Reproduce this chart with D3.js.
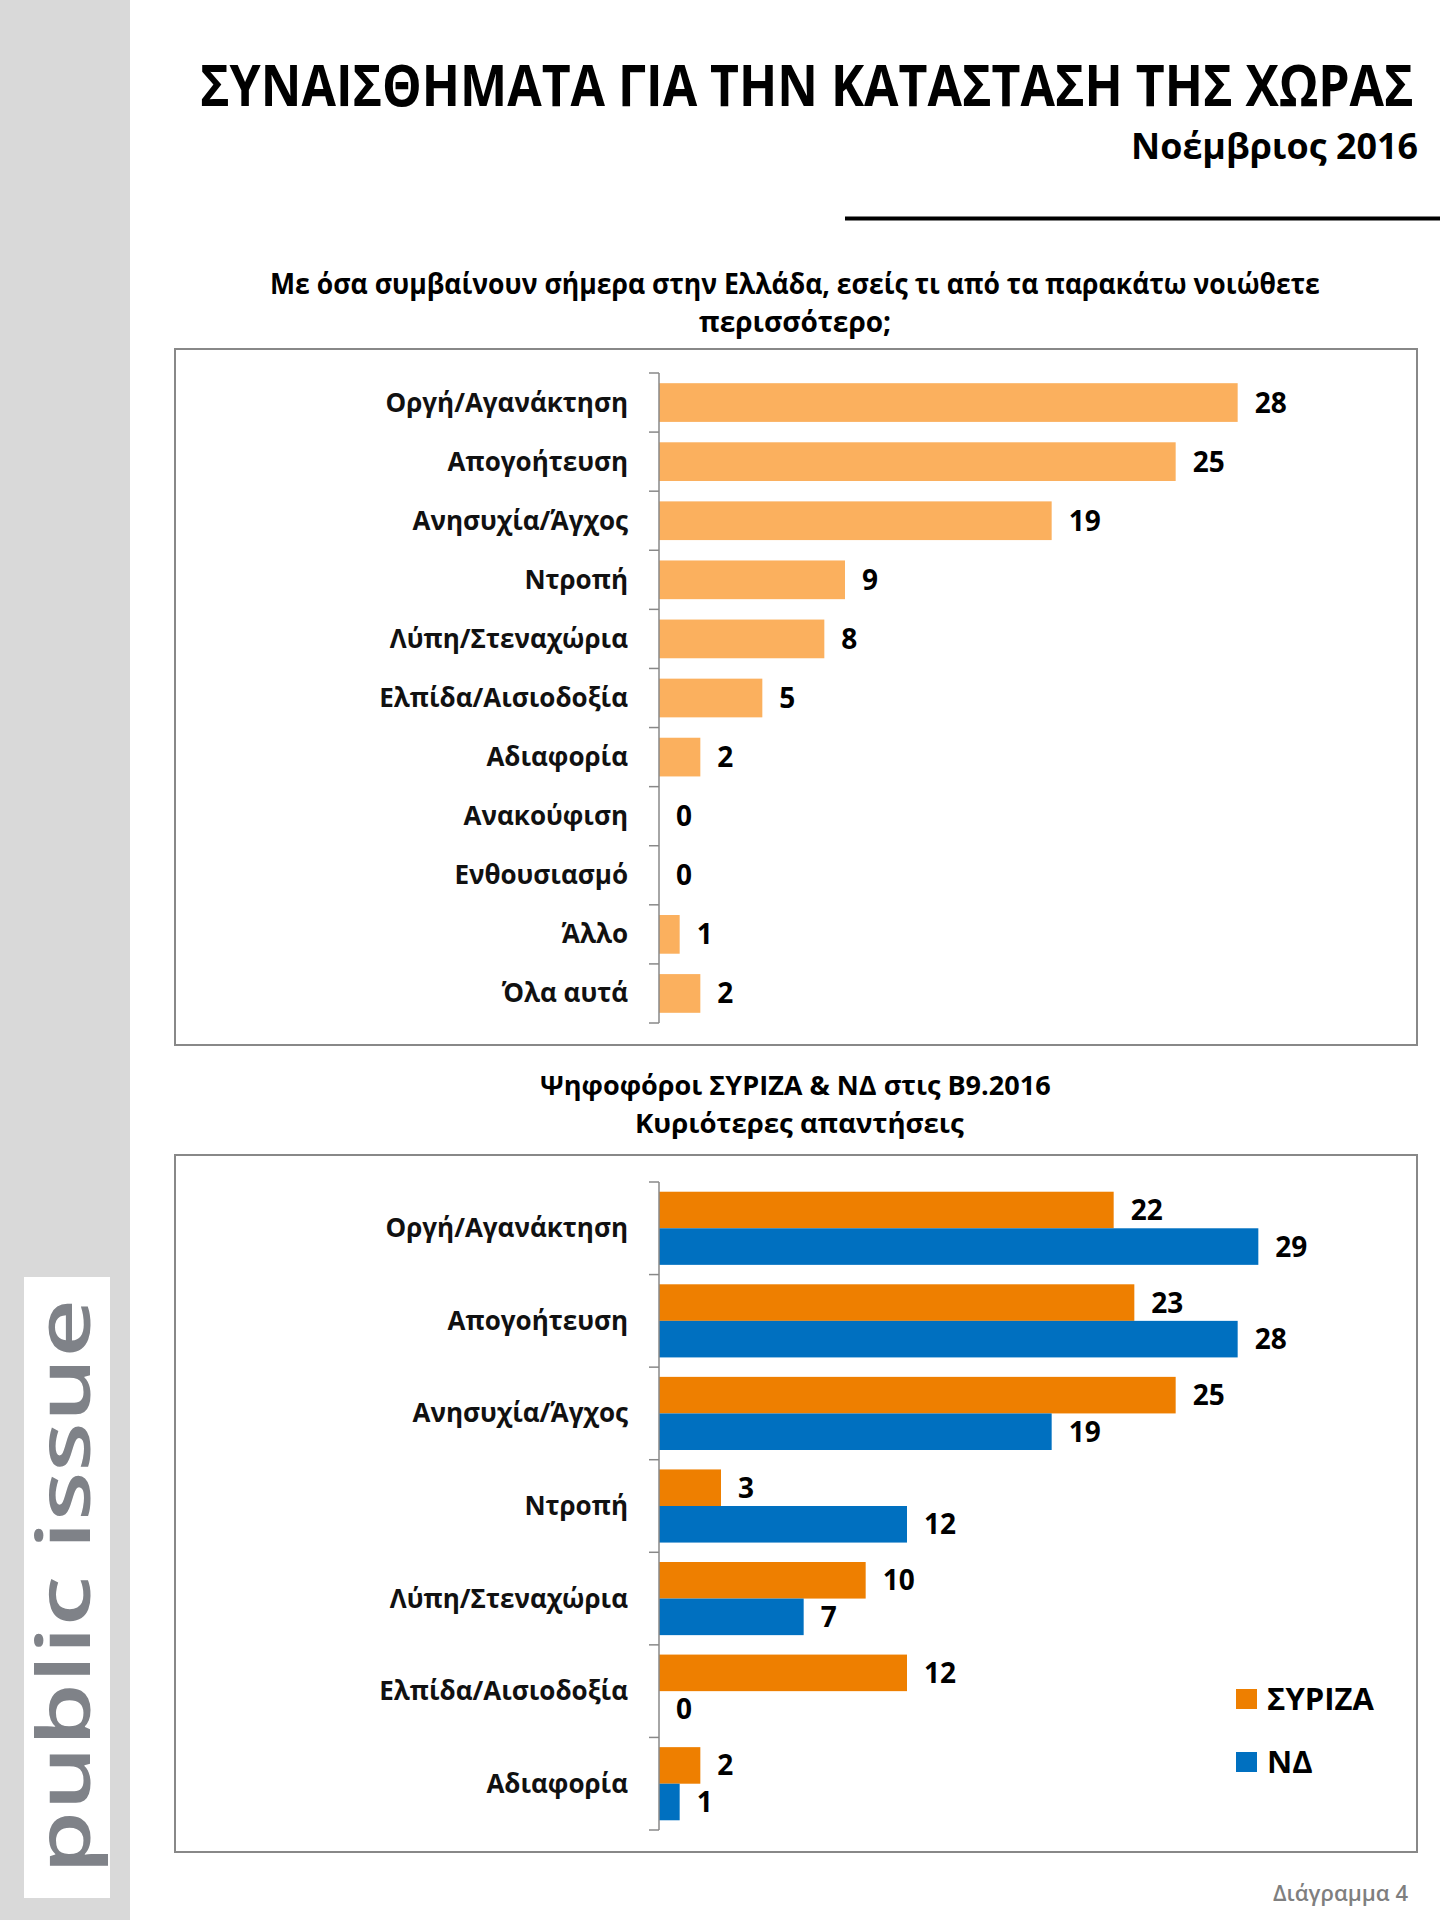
<!DOCTYPE html>
<html>
<head>
<meta charset="utf-8">
<script src="https://cdn.jsdelivr.net/npm/d3@7"></script>
<style>
  body { margin: 0; background: #fff; }
  svg text { font-family: "Open Sans", "Noto Sans", sans-serif; }
</style>
</head>
<body>
<svg id="chart" width="1440" height="1920"></svg>
<script>
// data
const cats1 = ["Οργή/Αγανάκτηση", "Απογοήτευση", "Ανησυχία/Άγχος", "Ντροπή", "Λύπη/Στεναχώρια",
  "Ελπίδα/Αισιοδοξία", "Αδιαφορία", "Ανακούφιση", "Ενθουσιασμό", "Άλλο", "Όλα αυτά"];
const vals1 = [28, 25, 19, 9, 8, 5, 2, 0, 0, 1, 2];

const cats2 = ["Οργή/Αγανάκτηση", "Απογοήτευση", "Ανησυχία/Άγχος", "Ντροπή", "Λύπη/Στεναχώρια",
  "Ελπίδα/Αισιοδοξία", "Αδιαφορία"];
const series = ["ΣΥΡΙΖΑ", "ΝΔ"];
const syriza = [22, 23, 25, 3, 10, 12, 2];
const nd = [29, 28, 19, 12, 7, 0, 1];

const svg = d3.select("#chart");
const axisColor = "#888";

// heading text squeezed/stretched horizontally to a known width
const heading = (x, y, w, size, str, opts = {}) => {
  const t = svg.append("text").attr("font-size", size)
    .attr("font-weight", opts.weight || 700).attr("fill", opts.fill || "#000").text(str);
  const k = w / t.node().getComputedTextLength();
  t.attr("transform", `translate(${x},${y})${opts.rot ? " rotate(-90)" : ""} scale(${k},1)`);
  return t;
};

// side bar + logo
svg.append("rect").attr("x", 0).attr("y", 0).attr("width", 130).attr("height", 1920).attr("fill", "#d9d9d9");
svg.append("rect").attr("x", 24).attr("y", 1277).attr("width", 86).attr("height", 621).attr("fill", "#fff");
heading(90, 1874, 575, 75, "public issue", { rot: true, weight: 600, fill: "#7f8288" });

// headings
heading(200, 106, 1214, 57, "ΣΥΝΑΙΣΘΗΜΑΤΑ ΓΙΑ ΤΗΝ ΚΑΤΑΣΤΑΣΗ ΤΗΣ ΧΩΡΑΣ");
heading(1131, 159, 287, 36, "Νοέμβριος 2016");
svg.append("line").attr("x1", 845).attr("x2", 1440).attr("y1", 218.5).attr("y2", 218.5)
  .attr("stroke", "#000").attr("stroke-width", 4);

heading(270, 294, 1050, 28, "Με όσα συμβαίνουν σήμερα στην Ελλάδα, εσείς τι από τα παρακάτω νοιώθετε");
svg.append("text").attr("x", 795).attr("y", 332).attr("text-anchor", "middle")
  .attr("font-size", 28).attr("font-weight", 700)
  .text("περισσότερο;");

heading(540, 1095, 511, 27, "Ψηφοφόροι ΣΥΡΙΖΑ & ΝΔ στις Β9.2016");
heading(635, 1133, 329, 27, "Κυριότερες απαντήσεις");

svg.append("text").attr("x", 1408).attr("y", 1901).attr("text-anchor", "end")
  .attr("font-size", 22).attr("font-weight", 600).attr("fill", "#7f7f7f")
  .text("Διάγραμμα 4");

// frames
svg.append("rect").attr("x", 175).attr("y", 349).attr("width", 1242).attr("height", 696)
  .attr("fill", "none").attr("stroke", axisColor).attr("stroke-width", 2);
svg.append("rect").attr("x", 175).attr("y", 1155).attr("width", 1242).attr("height", 697)
  .attr("fill", "none").attr("stroke", axisColor).attr("stroke-width", 2);

// shared x scale
const x = d3.scaleLinear().domain([0, 30]).range([659, 1279]);
const labelX = 628, valGap = 17;

const drawAxis = (y) => {
  const g = svg.append("g");
  const [y0, y1] = y.range();
  g.append("line").attr("x1", x(0)).attr("x2", x(0)).attr("y1", y0).attr("y2", y1)
    .attr("stroke", axisColor).attr("stroke-width", 1.5);
  g.selectAll("line.tick").data(d3.range(y.domain().length + 1)).join("line")
    .attr("class", "tick")
    .attr("x1", x(0) - 10).attr("x2", x(0))
    .attr("y1", i => y0 + i * y.step()).attr("y2", i => y0 + i * y.step())
    .attr("stroke", axisColor).attr("stroke-width", 1.5);
  g.selectAll("text").data(y.domain()).join("text")
    .attr("x", labelX).attr("y", d => y(d) + y.bandwidth() / 2 + 9)
    .attr("text-anchor", "end").attr("font-size", 26).attr("font-weight", 700).attr("fill", "#111")
    .text(d => d);
};

// chart 1
const y1 = d3.scaleBand().domain(cats1).range([373, 1023]).paddingInner(0.345).paddingOuter(0.1725);
const data1 = cats1.map((c, i) => ({ c, v: vals1[i] }));
svg.append("g").selectAll("rect").data(data1).join("rect")
  .attr("x", x(0)).attr("y", d => y1(d.c))
  .attr("width", d => x(d.v) - x(0)).attr("height", y1.bandwidth())
  .attr("fill", "#fbb05e");
svg.append("g").selectAll("text").data(data1).join("text")
  .attr("x", d => x(d.v) + valGap).attr("y", d => y1(d.c) + y1.bandwidth() / 2 + 10)
  .attr("font-size", 28).attr("font-weight", 700)
  .text(d => d.v);
drawAxis(y1);

// chart 2
const y2 = d3.scaleBand().domain(cats2).range([1182, 1830]).paddingInner(0.21).paddingOuter(0.105);
const ys = d3.scaleBand().domain(series).range([0, y2.bandwidth()]);
const color = d3.scaleOrdinal().domain(series).range(["#ee7f00", "#0070c0"]);
const data2 = cats2.flatMap((c, i) => [
  { c, s: series[0], v: syriza[i] },
  { c, s: series[1], v: nd[i] }
]);
svg.append("g").selectAll("rect").data(data2).join("rect")
  .attr("x", x(0)).attr("y", d => y2(d.c) + ys(d.s))
  .attr("width", d => x(d.v) - x(0)).attr("height", ys.bandwidth())
  .attr("fill", d => color(d.s));
svg.append("g").selectAll("text").data(data2).join("text")
  .attr("x", d => x(d.v) + valGap).attr("y", d => y2(d.c) + ys(d.s) + ys.bandwidth() / 2 + 10)
  .attr("font-size", 28).attr("font-weight", 700)
  .text(d => d.v);
drawAxis(y2);

// legend
const lg = svg.append("g").selectAll("g").data(series).join("g")
  .attr("transform", (d, i) => `translate(1236,${1689 + i * 63})`);
lg.append("rect").attr("width", 21).attr("height", 20).attr("fill", d => color(d));
lg.append("text").attr("x", 31).attr("y", 21)
  .attr("font-size", 31).attr("font-weight", 700)
  .text(d => d);
</script>
</body>
</html>
